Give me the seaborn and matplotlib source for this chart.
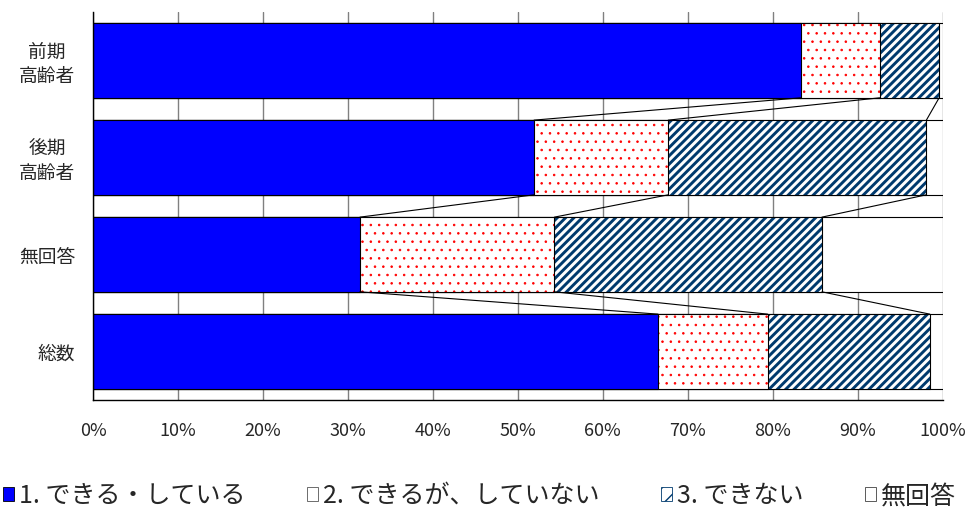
import matplotlib
matplotlib.use('Agg')
import matplotlib.pyplot as plt
from matplotlib.patches import Patch
import seaborn as sns
import pandas as pd

# values (percent)
groups = ['前期\n高齢者', '後期\n高齢者', '無回答', '総数']
can_do = [83.3, 51.9, 31.4, 66.5]
can_but_not = [9.3, 15.8, 22.9, 12.9]
cannot = [7.0, 30.4, 31.5, 19.1]
no_answer = [0.4, 1.9, 14.2, 1.5]
series_names = ['1. できる・している', '2. できるが、していない', '3. できない', '無回答']

sns.set_theme(style='white')
plt.rcParams['font.family'] = ['Noto Sans CJK JP', 'DejaVu Sans']

NAVY = '#003a6e'
BAR_W = 0.77

df = pd.DataFrame({'group': groups})
df['c1'] = can_do
df['c2'] = df['c1'] + can_but_not
df['c3'] = df['c2'] + cannot
df['c4'] = df['c3'] + no_answer

fig = plt.figure(figsize=(9.65, 5.2), dpi=100)
ax = fig.add_axes([0.0967, 0.2308, 0.88, 0.7462])

ax.set_xlim(0, 100)
ax.set_xticks(range(0, 101, 10))
ax.grid(axis='x', color='#808080', lw=1.0)
ax.set_axisbelow(True)

# stacked bars drawn as overlapping cumulative bars, outer first
layers = [
    ('c4', 'white', 'black', None, 0.8),
    ('c3', 'white', NAVY, '////', 2.1),
    ('c2', 'white', 'red', '..', 0.6),
    ('c1', 'blue', 'blue', None, 0.8),
]
for col, face, edge, hatch, hlw in layers:
    plt.rcParams['hatch.linewidth'] = hlw
    sns.barplot(data=df, x=col, y='group', orient='h', width=BAR_W,
                color=face, saturation=1, edgecolor=edge, linewidth=0,
                hatch=hatch, errorbar=None, ax=ax)
    sns.barplot(data=df, x=col, y='group', orient='h', width=BAR_W,
                fill=False, edgecolor='black', linewidth=0.8,
                errorbar=None, ax=ax)

# series lines between the bars
for col in ['c1', 'c2', 'c3']:
    v = df[col].values
    for k in range(len(groups) - 1):
        ax.plot([v[k], v[k + 1]], [k + BAR_W / 2, k + 1 - BAR_W / 2],
                color='black', lw=0.8)

ax.set_ylim(len(groups) - 0.5, -0.5)
ax.set_xlabel('')
ax.set_ylabel('')
ax.xaxis.set_major_formatter(matplotlib.ticker.FuncFormatter(lambda v, p: f'{v:.0f}%'))

for s in ['top', 'right']:
    ax.spines[s].set_visible(False)
for s in ['left', 'bottom']:
    ax.spines[s].set_color('black')
    ax.spines[s].set_linewidth(1.0)

ax.tick_params(axis='x', length=0, pad=16, labelsize=13)
ax.tick_params(axis='y', which='major', length=0, pad=13, labelsize=13.5)
ax.set_yticks([i - 0.5 for i in range(len(groups) + 1)], minor=True)
ax.tick_params(axis='y', which='minor', direction='in', length=4.5, width=0.8, color='black')
for lab in ax.get_yticklabels():
    lab.set_multialignment('center')

plt.rcParams['hatch.linewidth'] = 1.0
handles = [
    Patch(facecolor='blue', edgecolor='black', lw=0.6),
    Patch(facecolor='white', edgecolor='#555555', lw=0.6),
    Patch(facecolor='white', edgecolor=NAVY, hatch='//', lw=0.6),
    Patch(facecolor='white', edgecolor='#404040', lw=0.6),
]
fig.legend(handles, series_names, loc='center', bbox_to_anchor=(0.497, 0.046),
           ncol=4, frameon=False, fontsize=18, handlelength=0.45, handleheight=0.45,
           handletextpad=0.2, columnspacing=2.45, borderaxespad=0)

fig.savefig('out.png', dpi=100)
